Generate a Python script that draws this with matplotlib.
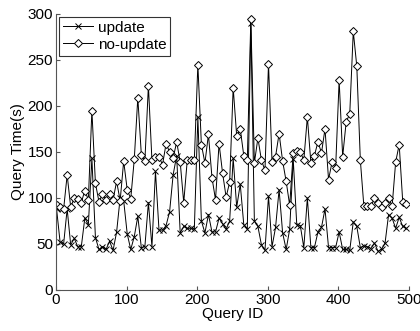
import numpy as np
import matplotlib
matplotlib.use('Agg')
import matplotlib.pyplot as plt

plt.rcParams['font.family'] = ['Liberation Sans', 'DejaVu Sans']

# query ids (one point every 5 queries)
query_id = np.arange(100) * 5 + 1

update = [88, 52, 50, 88, 49, 56, 47, 47, 78, 71,
          143, 57, 44, 47, 44, 53, 43, 63, 100, 97,
          61, 44, 58, 80, 46, 47, 95, 47, 129, 65,
          65, 70, 85, 125, 146, 62, 69, 67, 67, 66,
          188, 75, 62, 82, 63, 63, 78, 72, 66, 75,
          143, 90, 115, 71, 66, 290, 75, 69, 49, 43,
          102, 47, 68, 109, 62, 44, 66, 142, 71, 70,
          46, 100, 46, 46, 63, 68, 88, 46, 46, 46,
          63, 44, 44, 43, 74, 69, 46, 48, 47, 45,
          51, 42, 44, 51, 82, 78, 67, 79, 69, 67]

no_update = [92, 90, 88, 125, 90, 100, 99, 95, 108, 98,
             195, 116, 96, 104, 98, 104, 98, 118, 97, 140,
             109, 99, 142, 209, 147, 140, 222, 141, 145, 145,
             136, 159, 150, 143, 161, 139, 95, 141, 141, 141,
             245, 158, 138, 169, 122, 98, 159, 127, 101, 117,
             220, 167, 175, 146, 141, 295, 138, 165, 141, 130,
             246, 139, 145, 170, 140, 118, 92, 149, 151, 150,
             141, 188, 138, 146, 161, 149, 175, 120, 139, 132,
             228, 145, 183, 191, 281, 243, 141, 91, 91, 91,
             100, 94, 90, 94, 100, 91, 139, 158, 96, 93]

fig = plt.figure(figsize=(4.2, 3.31), dpi=100)
ax = fig.add_axes([0.133, 0.124, 0.841, 0.834])

ax.plot(query_id, update, color='black', linewidth=0.7, marker='x',
        markersize=4, markeredgewidth=0.7, label='update')
ax.plot(query_id, no_update, color='black', linewidth=0.7, marker='D',
        markersize=4.5, markerfacecolor='white', markeredgewidth=0.7,
        label='no-update')

ax.set_xlim(0, 500)
ax.set_ylim(0, 300)
ax.set_xticks(range(0, 501, 100))
ax.set_yticks(range(0, 301, 50))
ax.spines['top'].set_visible(False)
ax.spines['right'].set_visible(False)
ax.spines['left'].set_color('#555555')
ax.spines['bottom'].set_color('#555555')
ax.tick_params(direction='in', length=3, labelsize=11, colors='#555555',
               labelcolor='black', pad=2)

ax.set_xlabel('Query ID', fontsize=11, labelpad=0)
ax.set_ylabel('Query Time(s)', fontsize=11, labelpad=2)

leg = ax.legend(loc='upper left', fontsize=11, frameon=True, fancybox=False,
                edgecolor='black', handlelength=2.0, handletextpad=0.3,
                borderpad=0.25, labelspacing=0.2, borderaxespad=0.2)
leg.get_frame().set_linewidth(0.8)

plt.savefig('out.png', dpi=100)
